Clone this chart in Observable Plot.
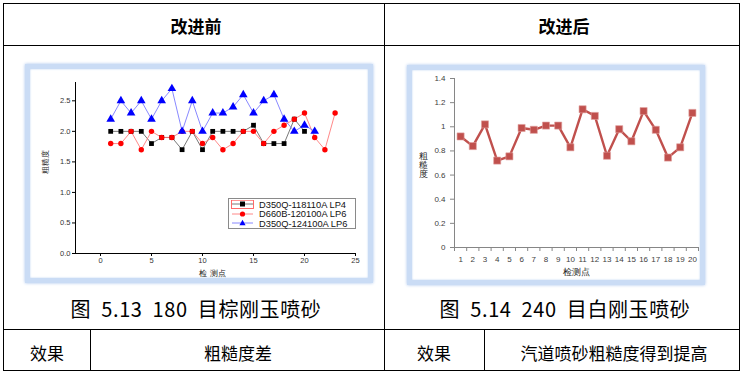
<!DOCTYPE html>
<html><head><meta charset="utf-8">
<script src="https://cdn.jsdelivr.net/npm/d3@7"></script>
<script src="https://cdn.jsdelivr.net/npm/@observablehq/plot@0.6"></script>
<style>
body{margin:0;background:#fff;width:743px;height:375px;position:relative;overflow:hidden;font-family:"Noto Sans CJK SC",sans-serif;}
.ln{position:absolute;background:#000;}
.t{position:absolute;transform:translate(-50%,-50%);white-space:pre;color:#000;line-height:1;}
.frame{position:absolute;border:5px solid #cadcf5;box-shadow:0 0 3px #a6c3ec, inset 0 0 2px #b3cdf0;background:#fff;box-sizing:border-box;}
.plot{position:absolute;}
#legend{position:absolute;left:228px;top:198px;width:128px;height:31px;border:1px solid #8a8a8a;background:#fff;box-sizing:border-box;font-family:"Liberation Sans",Arial,sans-serif;font-size:9.3px;color:#111;}
#legend .it{position:absolute;left:2px;height:9px;display:flex;align-items:center;}
#legend .it span{margin-left:5px;}
</style></head><body>
<div id="table"></div>
<div class="frame" style="left:25px;top:64px;width:348px;height:219px;"></div>
<div class="frame" style="left:407px;top:65px;width:298px;height:220px;"></div>
<div id="c1" class="plot" style="left:30px;top:69px;"></div>
<div id="c2" class="plot" style="left:412px;top:70px;"></div>
<div id="legend"></div>
<script>
// ---------- data: left chart (图5.13) ----------
const seriesNames = ["D350Q-118110A LP4", "D660B-120100A LP6", "D350Q-124100A LP6"];
const seriesColors = ["#000000", "#ff0000", "#0000ff"];
const lineColors = ["#555555", "#ff6a6a", "#6a6aff"];
const seriesSymbols = ["square", "circle", "triangle"];
const pointsA = [1,2,3,4,5,6,7,8,9,10,11,12,13,14,15,16,17,18,19,20];
const roughA  = [2.0,2.0,2.0,2.0,1.8,1.9,1.9,1.7,2.0,1.7,2.0,2.0,2.0,2.0,2.1,1.8,1.8,1.8,2.2,2.0];
const pointsB = [1,2,3,4,5,6,7,8,9,10,11,12,13,14,15,16,17,18,19,20,21,22,23];
const roughB  = [1.8,1.8,2.0,1.7,2.0,1.9,1.9,2.0,2.0,1.8,1.9,1.7,1.8,2.0,2.0,1.8,2.0,2.1,2.2,2.3,1.9,1.7,2.3];
const pointsC = [1,2,3,4,5,6,7,8,9,10,11,12,13,14,15,16,17,18,19,20,21];
const roughC  = [2.2,2.5,2.3,2.5,2.2,2.5,2.7,2.0,2.5,2.0,2.3,2.3,2.4,2.6,2.3,2.5,2.6,2.2,2.0,2.1,2.0];
const leftXTicks = [0,5,10,15,20,25];
const leftYTicks = [0,0.5,1.0,1.5,2.0,2.5];
const leftXDomain = [-2.45, 25];
const leftYDomain = [0, 2.8];

// ---------- data: right chart (图5.14) ----------
const pointsR = [1,2,3,4,5,6,7,8,9,10,11,12,13,14,15,16,17,18,19,20];
const roughR  = [0.92,0.84,1.02,0.72,0.755,0.99,0.975,1.01,1.01,0.83,1.145,1.09,0.76,0.98,0.88,1.13,0.975,0.745,0.83,1.115];
const rightYTicks = [0,0.2,0.4,0.6,0.8,1.0,1.2,1.4];
const rightXDomain = [0.5, 20.5];
const rightYDomain = [0, 1.4];

// ---------- table texts ----------
const headers = ["改进前", "改进后"];
const captions = ["图 5.13 180 目棕刚玉喷砂", "图 5.14 240 目白刚玉喷砂"];
const effectLabel = "效果";
const effects = ["粗糙度差", "汽道喷砂粗糙度得到提高"];

// ---------- table drawing ----------
const T = document.getElementById("table");
function line(x, y, w, h) { const d = document.createElement("div"); d.className = "ln"; Object.assign(d.style, {left: x+"px", top: y+"px", width: w+"px", height: h+"px"}); T.appendChild(d); }
function txt(s, x, y, size, weight, extra) { const d = document.createElement("div"); d.className = "t"; d.textContent = s; Object.assign(d.style, {left: x+"px", top: y+"px", fontSize: size+"px", fontWeight: weight || 400}, extra || {}); T.appendChild(d); }
line(3, 3, 737, 1); line(3, 45, 737, 1); line(3, 329, 737, 1); line(3, 370, 737, 1);
line(3, 3, 1, 368); line(739, 3, 1, 368); line(384, 3, 1, 368);
line(90, 329, 1, 42); line(484, 329, 1, 42);
txt(headers[0], 196, 25, 17, 700); txt(headers[1], 564, 25, 17, 700);
const capStyle = {wordSpacing: "5px", letterSpacing: "0.6px"};
txt(captions[0], 196, 309, 20, 400, capStyle); txt(captions[1], 565, 309, 20, 400, capStyle);
txt(effectLabel, 47, 352, 17); txt(effects[0], 238, 352, 17);
txt(effectLabel, 434, 352, 17); txt(effects[1], 614, 352, 17);

// ---------- left chart ----------
const rowsL = [];
[[pointsA, roughA], [pointsB, roughB], [pointsC, roughC]].forEach(([xs, ys], s) =>
  xs.forEach((x, i) => rowsL.push({s, name: seriesNames[s], x, y: ys[i]})));

const marksL = [
  Plot.axisX({ticks: leftXTicks, tickSize: 3, tickPadding: 1, fontSize: 7.5, stroke: "#000", fill: "#333", label: null}),
  Plot.axisY({ticks: leftYTicks, tickFormat: ".1f", tickSize: 3, tickPadding: 2, fontSize: 7.5, stroke: "#000", fill: "#333", label: null}),
  Plot.frame({anchor: "left", stroke: "#000"}),
  Plot.frame({anchor: "bottom", stroke: "#000"}),
  Plot.text(["粗糙度"], {frameAnchor: "left", dx: -30, dy: 6, rotate: -90, fontSize: 8, fill: "#222"}),
  Plot.text(["检 测点"], {frameAnchor: "bottom", dx: -3, dy: 22, fontSize: 8, fill: "#222"})
];
[0, 1, 2].forEach(s => {
  const d = rowsL.filter(r => r.s === s);
  marksL.push(Plot.line(d, {x: "x", y: "y", stroke: lineColors[s], strokeWidth: 0.8}));
});
[0, 1, 2].forEach(s => {
  const d = rowsL.filter(r => r.s === s);
  marksL.push(Plot.dot(d, {x: "x", y: "y", symbol: seriesSymbols[s], r: s === 2 ? 3.2 : 2.7, fill: seriesColors[s], stroke: "none"}));
});
const left = Plot.plot({
  width: 338, height: 209, marginLeft: 45, marginRight: 13, marginTop: 13, marginBottom: 25,
  style: {fontFamily: "'Liberation Sans', Arial, sans-serif", background: "transparent", overflow: "visible"},
  x: {domain: leftXDomain}, y: {domain: leftYDomain},
  marks: marksL
});
document.getElementById("c1").appendChild(left);

// legend
const L = document.getElementById("legend");
seriesNames.forEach((n, s) => {
  const it = document.createElement("div"); it.className = "it"; it.style.top = (1 + s * 9.7) + "px";
  const sym = s === 0 ? '<rect x="9" y="1.5" width="5" height="5" fill="#000"/>' :
              s === 1 ? '<circle cx="11.5" cy="4" r="2.6" fill="#f00"/>' :
                        '<path d="M11.5,0.8 L14.6,6.3 L8.4,6.3 Z" fill="#00f"/>';
  const box = s === 0 ? '<rect x="0.5" y="0.2" width="22" height="8.3" fill="none" stroke="#ff5a5a" stroke-width="0.9"/>' : '';
  it.innerHTML = `<svg width="23" height="9">${box}<line x1="1" x2="22" y1="4" y2="4" stroke="${lineColors[s]}" stroke-width="0.8"/>${sym}</svg><span>${n}</span>`;
  L.appendChild(it);
});

// ---------- right chart ----------
const rowsR = pointsR.map((x, i) => ({x, y: roughR[i]}));
const right = Plot.plot({
  width: 288, height: 210, marginLeft: 42, marginRight: 2, marginTop: 8, marginBottom: 33,
  style: {fontFamily: "'Liberation Sans', Arial, sans-serif", background: "transparent", overflow: "visible"},
  x: {domain: rightXDomain}, y: {domain: rightYDomain},
  marks: [
    Plot.axisY({ticks: rightYTicks, tickFormat: d => String(+d.toFixed(1)), tickSize: 4, tickPadding: 5, fontSize: 8, stroke: "#868686", fill: "#404040", label: null}),
    Plot.axisX({ticks: pointsR, tickSize: 0, tickPadding: 9, fontSize: 8, fill: "#404040", label: null}),
    Plot.axisX({ticks: pointsR.map(p => p - 0.5).concat([rightXDomain[1]]), text: null, tickSize: 4, stroke: "#868686", label: null}),
    Plot.frame({anchor: "left", stroke: "#868686"}),
    Plot.frame({anchor: "bottom", stroke: "#868686"}),
    Plot.text(["粗\n糙\n度"], {frameAnchor: "left", dx: -36, dy: 2, fontSize: 9, lineHeight: 1.05, fill: "#222"}),
    Plot.text(["检测点"], {frameAnchor: "bottom", dy: 27, fontSize: 9, fill: "#222"}),
    Plot.line(rowsR, {x: "x", y: "y", stroke: "#C0504D", strokeWidth: 2.4}),
    Plot.dot(rowsR, {x: "x", y: "y", symbol: "square", r: 4, fill: "#C0504D", stroke: "#e0a09e", strokeWidth: 0.6})
  ]
});
document.getElementById("c2").appendChild(right);
</script>
</body></html>
